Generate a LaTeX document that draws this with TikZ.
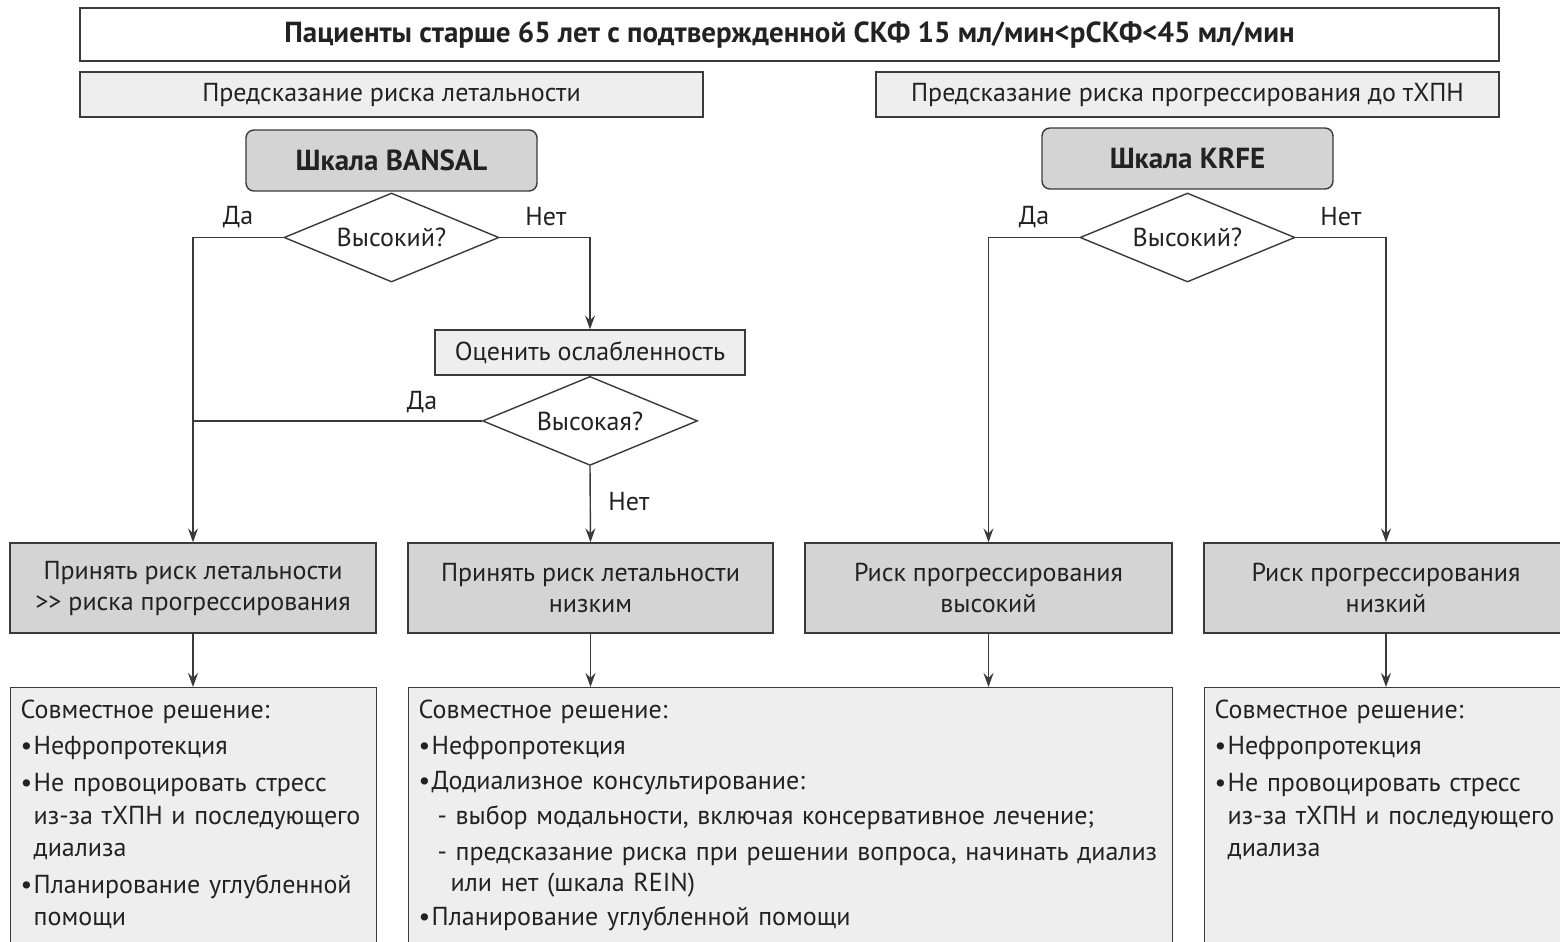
\documentclass[tikz,border=0pt]{standalone}
\usepackage{fontspec}
\setmainfont{PT Sans}
\usetikzlibrary{shapes.geometric,arrows.meta,positioning}
\definecolor{lineGray}{HTML}{3A3A3A}
\definecolor{textGray}{HTML}{222222}
\definecolor{midGray}{HTML}{D4D4D4}
\definecolor{paleGray}{HTML}{EEEEEE}
\newcommand{\bul}{\makebox[6.5pt][l]{•}}
\newcommand{\ind}{\hspace*{6.5pt}}
\begin{document}
\begin{tikzpicture}[x=0.5pt,y=-0.5pt,
  >={Stealth[length=7pt,width=5pt,inset=2.5pt]},
  every node/.style={text=textGray,font=\fontsize{13}{15.5}\selectfont},
  box/.style={draw=lineGray,line width=0.7pt,inner sep=0pt,align=center},
  headbox/.style={box,fill=paleGray,minimum width=311.5pt,minimum height=22.5pt},
  scalebox/.style={box,fill=midGray,rounded corners=4pt,minimum width=145.5pt,minimum height=30.5pt,
    font=\fontsize{14.5}{17}\bfseries},
  ask/.style={box,shape=diamond,aspect=2.4,minimum width=107.5pt,minimum height=44.5pt},
  outbox/.style={box,fill=midGray,minimum height=45pt},
  endbox/.style={box,fill=paleGray,anchor=north west,align=left,text depth=130pt,
    inner xsep=5pt,inner ysep=6pt,font=\fontsize{13}{16.3}\selectfont},
  lbl/.style={inner sep=1pt},
  link/.style={draw=lineGray,line width=0.7pt}]
  \clip (0,0) rectangle (1560,942);
  \useasboundingbox (0,0) rectangle (1560,942);
  \fill[white] (0,0) rectangle (1560,942);

  % Заголовок и две ветви
  \node[box,minimum width=709.5pt,minimum height=26.5pt,font=\fontsize{14.5}{17}\bfseries] (title) at (789.5,34.5)
    {Пациенты старше 65 лет с подтвержденной СКФ 15 мл/мин<рСКФ<45 мл/мин};
  \node[headbox] (hdrL) at (391.5,94.5) {Предсказание риска летальности};
  \node[headbox] (hdrR) at (1187.5,94.5) {Предсказание риска прогрессирования до тХПН};
  \node[scalebox] (bansal) at (391.5,160.5) {Шкала BANSAL};
  \node[scalebox] (krfe) at (1187.5,158.5) {Шкала KRFE};

  % Вопросы
  \node[ask] (askL) at (391.5,237.5) {Высокий?};
  \node[ask] (askR) at (1187.5,237.5) {Высокий?};
  \node[box,fill=paleGray,minimum width=155pt,minimum height=22.5pt] (frail) at (590,352.5) {Оценить ослабленность};
  \node[ask,below=0pt of frail] (askF) {Высокая?};

  % Исходы
  \node[outbox,minimum width=183pt] (outA) at (193,588) {Принять риск летальности\\>{}> риска прогрессирования};
  \node[outbox,minimum width=182.5pt] (outB) at (590.5,588) {Принять риск летальности\\низким};
  \node[outbox,minimum width=183.5pt] (outC) at (988.5,588) {Риск прогрессирования\\высокий};
  \node[outbox,minimum width=182pt] (outD) at (1386,588) {Риск прогрессирования\\низкий};

  % Решения
  \node[endbox,text width=173pt] (endA) at (10,687) {%
    Совместное решение:\\[2pt]
    \bul Нефропротекция\\[2pt]
    \bul Не провоцировать стресс\\
    \ind из-за тХПН и последующего\\
    \ind диализа\\[2pt]
    \bul Планирование углубленной\\
    \ind помощи};
  \node[endbox,text width=372pt] (endB) at (408,687) {%
    Совместное решение:\\[2pt]
    \bul Нефропротекция\\[1pt]
    \bul Додиализное консультирование:\\[1pt]
    \hspace*{9.5pt}- выбор модальности, включая консервативное лечение;\\[2pt]
    \hspace*{9.5pt}- предсказание риска при решении вопроса, начинать диализ\\[-1pt]
    \hspace*{16pt}или нет (шкала REIN)\\[1pt]
    \bul Планирование углубленной помощи};
  \node[endbox,text width=172pt] (endC) at (1204,687) {%
    Совместное решение:\\[2pt]
    \bul Нефропротекция\\[2pt]
    \bul Не провоцировать стресс\\
    \ind из-за тХПН и последующего\\
    \ind диализа};

  % Метки
  \node[lbl] (yesL) at (238,217) {Да};
  \node[lbl] (noL) at (546,217) {Нет};
  \node[lbl] (yesF) at (422,402) {Да};
  \node[lbl] (noF) at (629,502) {Нет};
  \node[lbl] (yesR) at (1034,217) {Да};
  \node[lbl] (noR) at (1341,217) {Нет};

  % Связи
  \draw[link,->] (askL.west) -| (outA.north);
  \draw[link,->] (askL.east) -| (frail.north);
  \draw[link] (askF.west) -- (askF.west -| outA.north);
  \draw[link,->] (askF.south) -- (outB.north);
  \draw[link,->] (askR.west) -| (outC.north);
  \draw[link,->] (askR.east) -| (outD.north);
  \draw[link,->] (outA.south) -- (outA.south |- endA.north);
  \draw[link,->] (outB.south) -- (outB.south |- endB.north);
  \draw[link,->] (outC.south) -- (outC.south |- endB.north);
  \draw[link,->] (outD.south) -- (outD.south |- endC.north);
\end{tikzpicture}
\end{document}
